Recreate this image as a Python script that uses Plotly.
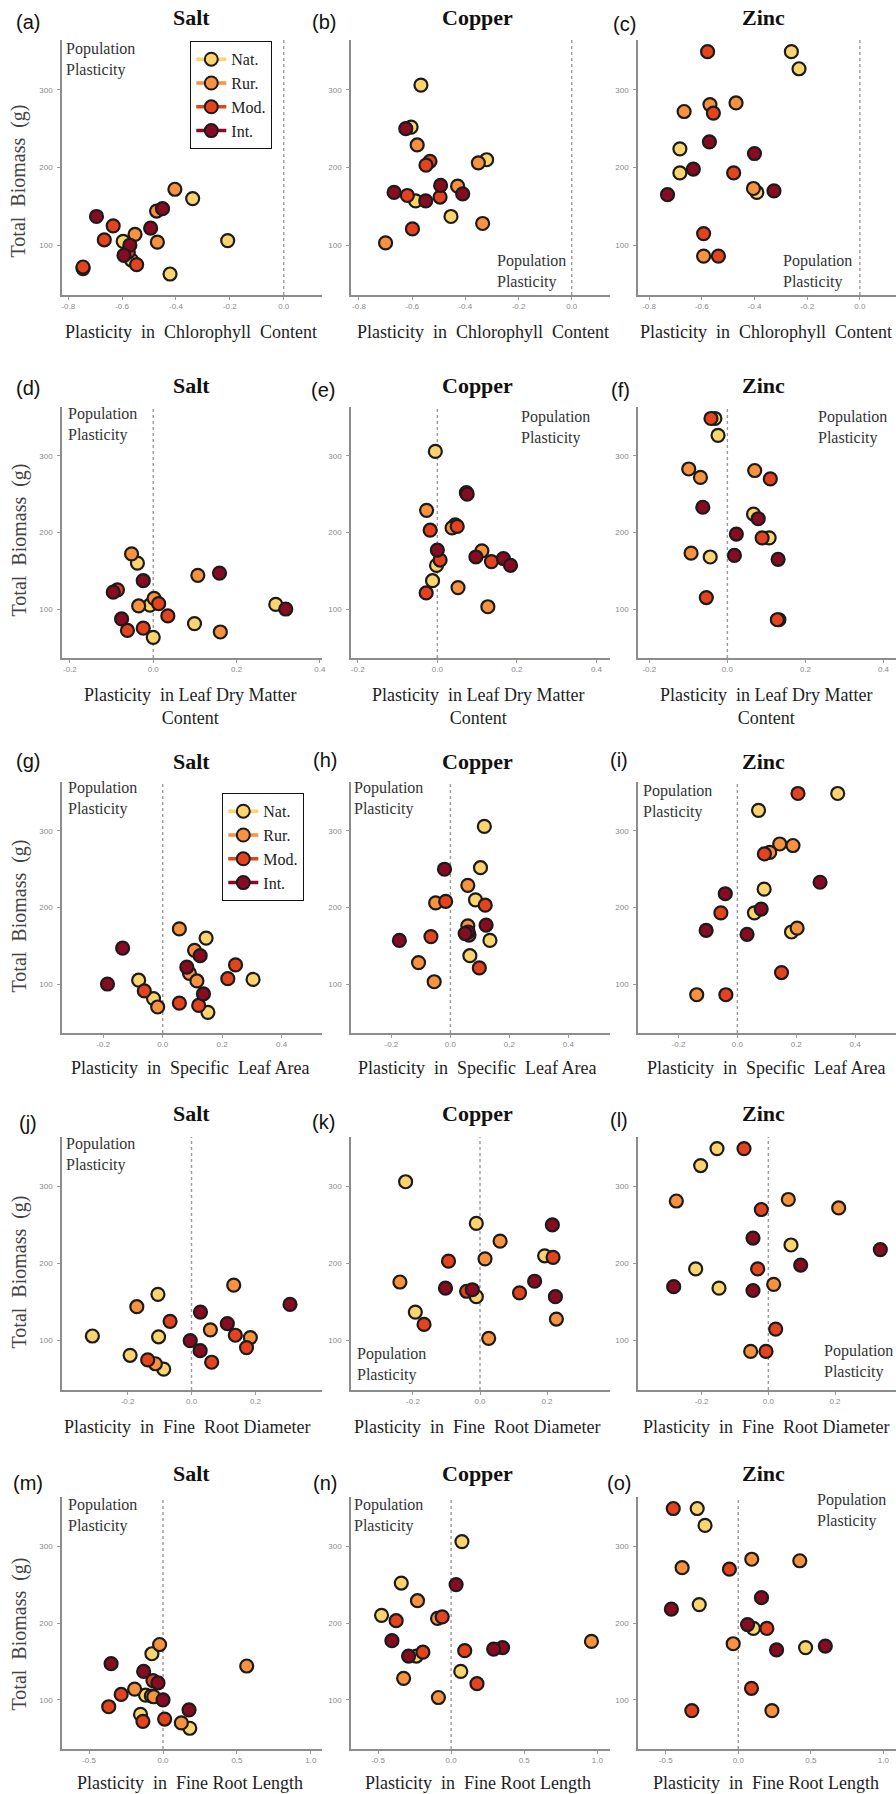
import plotly.graph_objects as go

W, H = 896, 1794

groups = ["Nat.", "Rur.", "Mod.", "Int."]
group_colors = ["#FBD46D", "#F8923F", "#E5431E", "#870C21"]
stresses = ["Salt", "Copper", "Zinc"]
panel_letters = ["(a)", "(b)", "(c)", "(d)", "(e)", "(f)", "(g)", "(h)", "(i)",
                 "(j)", "(k)", "(l)", "(m)", "(n)", "(o)"]
trait_titles = [
    "Plasticity\u00a0 in\u00a0 Chlorophyll\u00a0 Content",
    "Plasticity\u00a0 in Leaf Dry Matter<br>Content",
    "Plasticity\u00a0 in\u00a0 Specific\u00a0 Leaf Area",
    "Plasticity\u00a0 in\u00a0 Fine\u00a0 Root Diameter",
    "Plasticity\u00a0 in\u00a0 Fine Root Length",
]
y_title = "Total\u00a0 Biomass\u00a0 (g)"

# Total biomass (g) per stress; rows = Nat., Rur., Mod., Int. populations
biomass_salt = [
    [160, 106, 105, 81, 63],
    [172, 144, 114, 104, 70],
    [125, 107, 91, 75, 72],
    [147, 137, 122, 100, 87],
]
biomass_copper = [
    [306, 252, 210, 157, 137],
    [229, 206, 176, 128, 103],
    [208, 203, 164, 162, 121],
    [250, 177, 168, 166, 157],
]
biomass_zinc = [
    [349, 327, 224, 193, 168],
    [283, 281, 272, 173, 86],
    [349, 270, 193, 115, 86],
    [233, 218, 198, 170, 165],
]

# Plasticity values (same population order as biomass lists)
chl_salt = [
    [-0.338, -0.208, -0.596, -0.565, -0.422],
    [-0.404, -0.472, -0.552, -0.469, -0.745],
    [-0.633, -0.666, -0.577, -0.546, -0.745],
    [-0.450, -0.695, -0.494, -0.571, -0.593],
]
chl_copper = [
    [-0.567, -0.604, -0.320, -0.587, -0.454],
    [-0.581, -0.351, -0.429, -0.335, -0.700],
    [-0.533, -0.548, -0.618, -0.495, -0.599],
    [-0.624, -0.493, -0.668, -0.410, -0.549],
]
chl_zinc = [
    [-0.260, -0.231, -0.683, -0.683, -0.391],
    [-0.470, -0.569, -0.667, -0.404, -0.593],
    [-0.578, -0.556, -0.479, -0.593, -0.537],
    [-0.571, -0.400, -0.632, -0.326, -0.730],
]
ldmc_salt = [
    [-0.038, 0.294, -0.008, 0.099, 0.000],
    [-0.052, 0.107, 0.002, -0.035, 0.161],
    [-0.086, 0.013, 0.035, -0.024, -0.062],
    [0.159, -0.024, -0.096, 0.318, -0.076],
]
ldmc_copper = [
    [-0.005, 0.073, 0.045, -0.002, -0.012],
    [-0.027, 0.037, 0.112, 0.052, 0.127],
    [0.050, -0.018, 0.007, 0.136, -0.028],
    [0.075, 0.000, 0.097, 0.166, 0.184],
]
ldmc_zinc = [
    [-0.032, -0.024, 0.067, 0.107, -0.044],
    [-0.099, 0.070, -0.069, -0.093, 0.132],
    [-0.042, 0.110, 0.089, -0.054, 0.128],
    [-0.063, 0.079, 0.023, 0.018, 0.130],
]
sla_salt = [
    [0.146, 0.304, -0.081, -0.031, 0.152],
    [0.056, 0.107, 0.090, 0.115, -0.017],
    [0.245, 0.219, -0.062, 0.056, 0.121],
    [-0.135, 0.126, 0.081, -0.186, 0.137],
]
sla_copper = [
    [0.115, 0.102, 0.085, 0.134, 0.066],
    [0.059, -0.050, 0.059, -0.108, -0.055],
    [-0.016, 0.118, 0.063, -0.066, 0.098],
    [-0.020, 0.121, 0.060, 0.050, -0.173],
]
sla_zinc = [
    [0.341, 0.072, 0.091, 0.058, 0.184],
    [0.144, 0.189, 0.110, 0.203, -0.138],
    [0.206, 0.092, -0.056, 0.150, -0.039],
    [0.281, -0.041, 0.081, -0.106, 0.033],
]
frd_salt = [
    [-0.105, -0.310, -0.103, -0.192, -0.087],
    [0.132, -0.171, 0.059, 0.184, -0.113],
    [-0.067, 0.137, 0.172, -0.137, 0.063],
    [0.308, 0.028, 0.112, -0.004, 0.027],
]
frd_copper = [
    [-0.222, -0.011, 0.193, -0.011, -0.193],
    [0.060, 0.015, -0.239, 0.228, 0.026],
    [0.218, -0.094, -0.040, 0.118, -0.167],
    [0.216, 0.163, -0.103, -0.023, 0.225],
]
frd_zinc = [
    [-0.154, -0.203, 0.068, -0.218, -0.148],
    [0.060, -0.276, 0.211, 0.016, -0.053],
    [-0.073, -0.021, -0.032, 0.022, -0.007],
    [-0.046, 0.336, 0.097, -0.284, -0.046],
]
frl_salt = [
    [-0.075, -0.118, -0.079, -0.152, 0.181],
    [-0.023, 0.566, -0.192, -0.063, 0.124],
    [-0.068, -0.283, -0.367, 0.011, -0.136],
    [-0.351, -0.131, -0.034, 0.000, 0.176],
]
frl_copper = [
    [0.074, -0.341, -0.476, -0.238, 0.066],
    [-0.230, -0.093, 0.960, -0.325, -0.087],
    [-0.061, -0.376, 0.093, -0.193, 0.177],
    [0.034, -0.405, 0.352, 0.291, -0.291],
]
frl_zinc = [
    [-0.283, -0.229, -0.269, 0.104, 0.464],
    [0.093, 0.424, -0.387, -0.035, 0.232],
    [-0.448, -0.061, 0.197, 0.091, -0.320],
    [0.160, -0.461, 0.064, 0.600, 0.264],
]

# tick labels
x_tickvals = [
    [-0.8, -0.6, -0.4, -0.2, 0.0],
    [-0.2, 0.0, 0.2, 0.4],
    [-0.2, 0.0, 0.2, 0.4],
    [-0.2, 0.0, 0.2],
    [-0.5, 0.0, 0.5, 1.0],
]
x_ticktext = [
    ["-0.8", "-0.6", "-0.4", "-0.2", "0.0"],
    ["-0.2", "0.0", "0.2", "0.4"],
    ["-0.2", "0.0", "0.2", "0.4"],
    ["-0.2", "0.0", "0.2"],
    ["-0.5", "0.0", "0.5", "1.0"],
]
y_tickvals = [100, 200, 300]
y_ticktext = ["100", "200", "300"]

biomass = [biomass_salt, biomass_copper, biomass_zinc]
plasticity = [
    [chl_salt, chl_copper, chl_zinc],
    [ldmc_salt, ldmc_copper, ldmc_zinc],
    [sla_salt, sla_copper, sla_zinc],
    [frd_salt, frd_copper, frd_zinc],
    [frl_salt, frl_copper, frl_zinc],
]

# ---------------- layout geometry (pixels) ----------------
col_px = [(62, 322), (351, 610), (638, 896)]
row_px = [(40, 295), (407, 658), (782, 1033), (1137, 1390), (1497, 1749)]
x_ranges = [
    [[-0.823, 0.142], [-0.83, 0.144], [-0.842, 0.137]],
    [[-0.219, 0.405], [-0.217, 0.434], [-0.229, 0.432]],
    [[-0.339, 0.536], [-0.337, 0.541], [-0.3375, 0.539]],
    [[-0.405, 0.408], [-0.385, 0.388], [-0.391, 0.383]],
    [[-0.683, 1.075], [-0.685, 1.087], [-0.691, 1.087]],
]
y_range = [36, 364]

def px(x):
    return x / W

def py(y):
    return 1 - y / H

SERIF = "Liberation Serif"
SANS = "Liberation Sans"

fig = go.Figure()
layout = dict(
    width=W, height=H, margin=dict(l=0, r=0, t=0, b=0),
    paper_bgcolor="white", plot_bgcolor="white", showlegend=True,
)
shapes = []
annotations = []

for r in range(5):
    for c in range(3):
        k = r * 3 + c + 1
        xa = "x" if k == 1 else f"x{k}"
        ya = "y" if k == 1 else f"y{k}"
        for g in range(4):
            fig.add_trace(go.Scatter(
                x=plasticity[r][c][g], y=biomass[c][g],
                mode="markers", xaxis=xa, yaxis=ya, showlegend=False,
                name=groups[g],
                marker=dict(size=13, color=group_colors[g],
                            line=dict(color="#1b1b1b", width=2.2)),
                hoverinfo="x+y+name",
            ))
        axis_common = dict(
            showgrid=False, zeroline=False, showline=True,
            linecolor="#8c8c8c", linewidth=1.6,
            ticks="outside", ticklen=3, tickcolor="#9a9a9a", tickwidth=1,
            tickfont=dict(family=SANS, size=8, color="#8a8a8a"),
            automargin=False, fixedrange=True,
        )
        layout[f"xaxis{k}"] = dict(
            axis_common, domain=[px(col_px[c][0]), px(col_px[c][1])],
            range=x_ranges[r][c], anchor=ya,
            tickmode="array", tickvals=x_tickvals[r], ticktext=x_ticktext[r],
        )
        layout[f"yaxis{k}"] = dict(
            axis_common, domain=[py(row_px[r][1]), py(row_px[r][0])],
            range=y_range, anchor=xa,
            tickmode="array", tickvals=y_tickvals, ticktext=y_ticktext,
            ticklabelstandoff=3,
        )
        shapes.append(dict(
            type="line", xref=xa, yref=f"{ya} domain", x0=0, x1=0, y0=0, y1=1,
            line=dict(color="#9a9a9a", width=1.4, dash="dot"), layer="below",
        ))

# legend dummies
for leg in ["legend", "legend2"]:
    for g in range(4):
        fig.add_trace(go.Scatter(
            x=[None], y=[None], mode="lines+markers", name=groups[g],
            legend=leg, showlegend=True,
            line=dict(color=group_colors[g], width=3.5),
            marker=dict(size=13, color=group_colors[g],
                        line=dict(color="#1b1b1b", width=2)),
        ))

legend_common = dict(
    bgcolor="white", bordercolor="#111111", borderwidth=1.3,
    font=dict(family=SERIF, size=16, color="#222222"),
    xanchor="left", yanchor="top", tracegroupgap=0, itemclick=False,
)
layout["legend"] = dict(legend_common, x=px(190), y=py(41))
layout["legend2"] = dict(legend_common, x=px(222), y=py(793))

# titles of stress columns
title_x = [191, 477, 763]
title_y = [18, 385, 761, 1113, 1473]
letter_pos = [
    [(27.5, 22), (324, 22), (624, 24)],
    [(28, 388), (323, 390), (620, 390)],
    [(27.5, 761), (325, 760), (619, 760)],
    [(27.5, 1123), (323.5, 1122), (619, 1120)],
    [(28, 1483), (324.5, 1483), (619, 1483)],
]
xtitle_x = [
    [191, 483, 766],
    [190, 478, 766],
    [190, 477.5, 766],
    [187, 477.5, 766],
    [190, 478, 766],
]
xtitle_y = [332, 707, 1068, 1427, 1783]
ytitle_y = [181, 540, 916, 1272, 1634]
pp_pos = [
    [(64, 59.5), (495, 271.7), (781, 272)],
    [(66, 424.5), (519, 427.5), (815.5, 427.5)],
    [(66, 799), (352, 799), (641, 801)],
    [(64, 1154.5), (354.5, 1364), (822, 1361)],
    [(66, 1515.5), (352, 1515.5), (814.5, 1510.5)],
]

for r in range(5):
    for c in range(3):
        annotations.append(dict(
            text=f"<b>{stresses[c]}</b>", x=px(title_x[c]), y=py(title_y[r]),
            xref="paper", yref="paper", xanchor="center", yanchor="middle",
            showarrow=False, font=dict(family=SERIF, size=22, color="#111111"),
        ))
        lx, ly = letter_pos[r][c]
        annotations.append(dict(
            text=panel_letters[r * 3 + c], x=px(lx), y=py(ly),
            xref="paper", yref="paper", xanchor="center", yanchor="middle",
            showarrow=False, font=dict(family=SANS, size=20, color="#111111"),
        ))
        annotations.append(dict(
            text=trait_titles[r], x=px(xtitle_x[r][c]), y=py(xtitle_y[r]),
            xref="paper", yref="paper", xanchor="center", yanchor="middle",
            showarrow=False, font=dict(family=SERIF, size=18, color="#1e1e1e"),
        ))
        ax_, ay_ = pp_pos[r][c]
        annotations.append(dict(
            text="Population<br>Plasticity", x=px(ax_), y=py(ay_),
            xref="paper", yref="paper", xanchor="left", yanchor="middle",
            align="left", showarrow=False,
            font=dict(family=SERIF, size=16, color="#333333"),
        ))
    annotations.append(dict(
        text=y_title, x=px(18.5), y=py(ytitle_y[r]), textangle=-90,
        xref="paper", yref="paper", xanchor="center", yanchor="middle",
        showarrow=False, font=dict(family=SERIF, size=20, color="#444444"),
    ))

layout["shapes"] = shapes
layout["annotations"] = annotations
fig.update_layout(**layout)
fig.write_html(
    "out.html",
    config={"displayModeBar": False},
    post_script="document.body.style.margin='0px';document.body.style.overflow='hidden';",
)
